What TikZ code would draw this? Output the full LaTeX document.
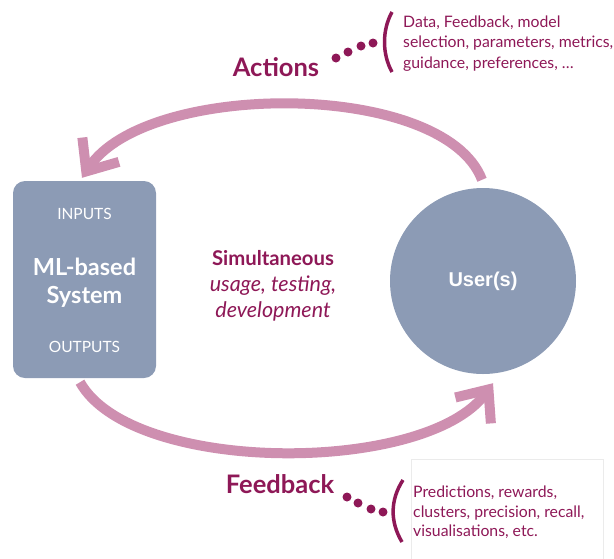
\documentclass[tikz,border=0pt]{standalone}
\usepackage{fontspec}
\setmainfont{Lato}
\newfontfamily\helv{Liberation Sans}
\usetikzlibrary{arrows.meta,calc}
\definecolor{slate}{HTML}{8C9BB5}
\definecolor{arcpink}{HTML}{CE8FB0}
\definecolor{plum}{HTML}{8E1857}
\definecolor{boxline}{HTML}{EBEBEB}
\begin{document}
\begin{tikzpicture}[x=1pt,y=-1pt,
  flow/.style={draw=arcpink, line width=10pt, -{Straight Barb[length=26pt,width=44pt]}},
  sysbox/.style={fill=slate, rounded corners=12pt, minimum width=143pt, minimum height=197pt, inner sep=0pt},
  userdisc/.style={circle, fill=slate, minimum size=186pt, inner sep=0pt, text=white, font=\helv\bfseries\fontsize{20}{24}\selectfont},
  boxsmall/.style={text=white, font=\fontsize{15.5}{18}\selectfont, anchor=base},
  boxbig/.style={text=white, font=\bfseries\fontsize{23.5}{28}\selectfont, anchor=base},
  biglabel/.style={text=plum, font=\bfseries\fontsize{25.5}{30}\selectfont, anchor=base},
  midbold/.style={text=plum, font=\bfseries\fontsize{20.3}{24}\selectfont, anchor=base},
  miditalic/.style={text=plum, font=\itshape\fontsize{21.5}{24}\selectfont, anchor=base},
  sidetext/.style={text=plum, font=\fontsize{15.8}{20.5}\selectfont, anchor=base west, inner sep=0pt},
  dotc/.style={fill=plum, circle, inner sep=0pt, minimum size=9pt},
  paren/.style={draw=plum, line width=3.5pt}
]
\useasboundingbox (0,0) rectangle (614,558);

% main shapes
\node[sysbox] (sys) at (84.5,279.5) {};
\node[userdisc] (user) at (483,281) {User(s)};

% box texts
\node[boxsmall] (inp) at (84.5,219) {INPUTS};
\node[boxbig] (ml) at (84.5,275) {ML-based};
\node[boxbig] (systxt) at (84.5,303) {System};
\node[boxsmall] (outp) at (84.5,352) {OUTPUTS};

% middle text
\node[midbold] (sim) at (273,265) {Simultaneous};
\node[miditalic] (use) at (273,291) {usage, testing,};
\node[miditalic] (dev) at (273,317) {development};

% arrows
\draw[flow] ([shift={(-1pt,8pt)}]user.north) .. controls (444,80) and (147,80) .. ([shift={(-2.5pt,3pt)}]sys.north);
\draw[flow] ([shift={(-4.5pt,-4pt)}]sys.south) .. controls (132,475) and (426,475) .. ([shift={(10pt,-9pt)}]user.south);

% Actions
\node[biglabel] (act) at (276,76) {Actions};
\node[dotc] (a1) at (336,58) {};
\node[dotc] (a2) at (348,52) {};
\node[dotc] (a3) at (361,46) {};
\node[dotc] (a4) at (373,43) {};
\coordinate (ap1) at (392,12);
\coordinate (ap2) at (392,72);
\draw[paren] (ap1) .. controls (382,30) and (382,54) .. (ap2);
\node[sidetext] (at1) at (403,27) {Data, Feedback, model};
\node[sidetext] (at2) at (403,47.5) {selection, parameters, metrics,};
\node[sidetext] (at3) at (403,68) {guidance, preferences, \dots};

% Feedback
\node[biglabel] (fb) at (280,493) {Feedback};
\node[dotc] (f1) at (347,497) {};
\node[dotc] (f2) at (358,503) {};
\node[dotc] (f3) at (371,509) {};
\node[dotc] (f4) at (383,512) {};
\coordinate (fp1) at (403,480);
\coordinate (fp2) at (402,542);
\draw[paren] (fp1) .. controls (390,500) and (390,522) .. (fp2);
\coordinate (bx1) at (411,559);
\coordinate (bx2) at (411,459);
\coordinate (bx3) at (603,459);
\coordinate (bx4) at (603,559);
\draw[boxline, line width=1pt] (bx1) -- (bx2) -- (bx3) -- (bx4);
\node[sidetext] (ft1) at (413,497) {Predictions, rewards,};
\node[sidetext] (ft2) at (413,517) {clusters, precision, recall,};
\node[sidetext] (ft3) at (413,536) {visualisations, etc.};
\end{tikzpicture}
\end{document}
